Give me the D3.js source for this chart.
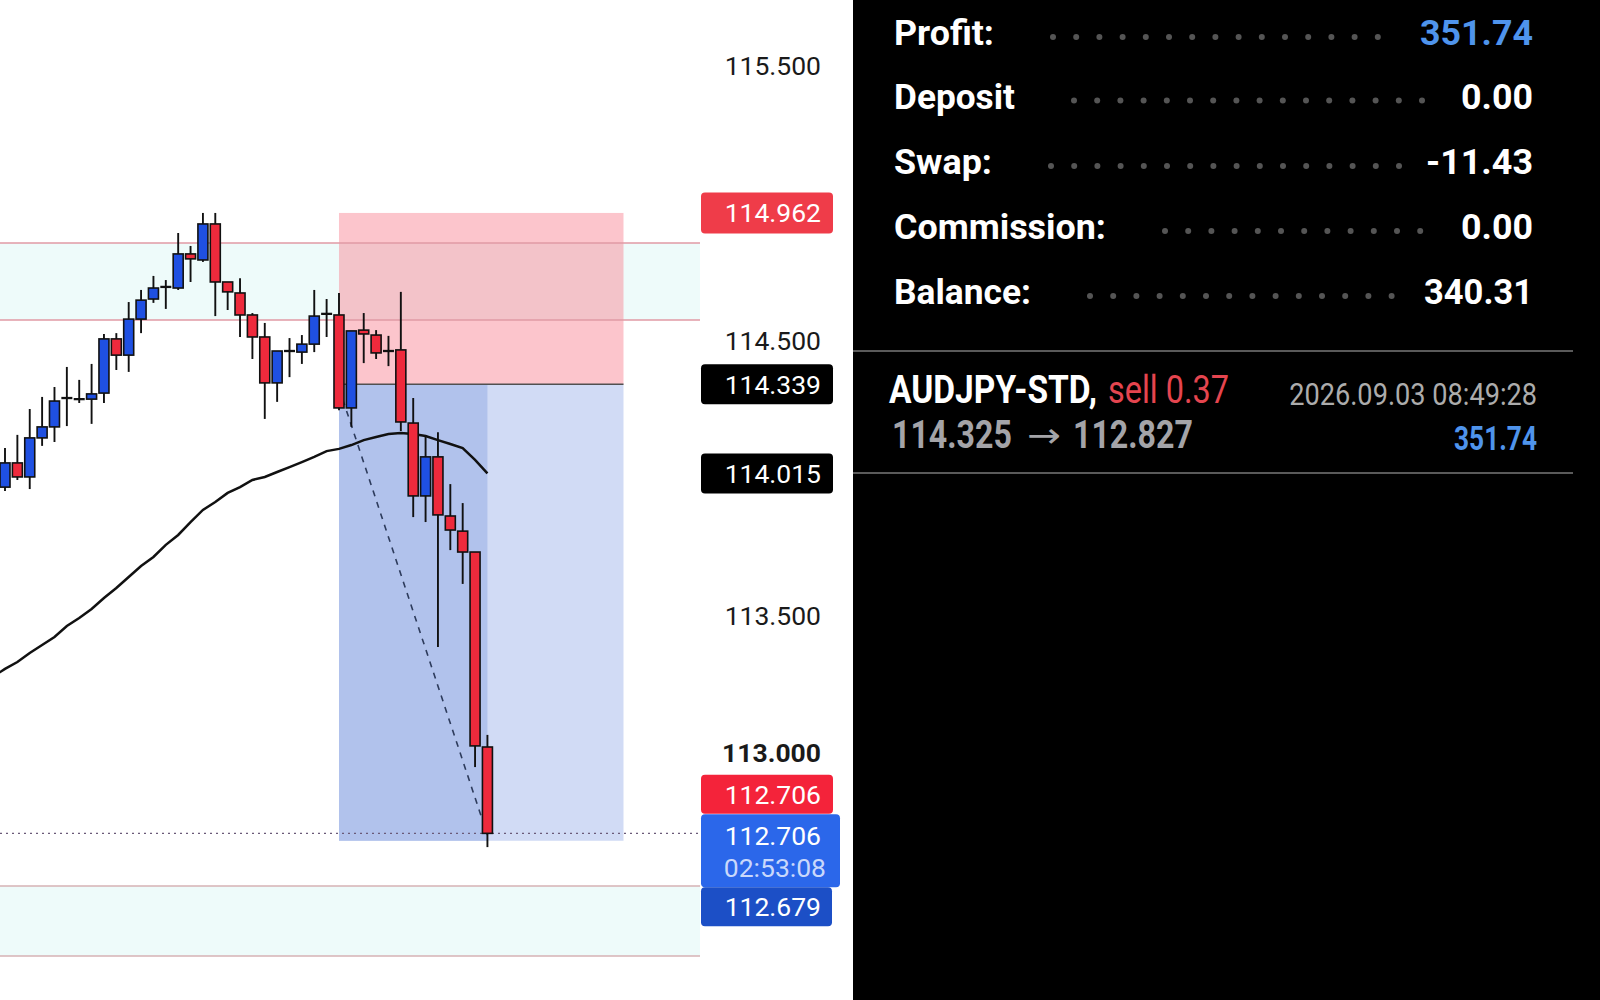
<!DOCTYPE html>
<html><head><meta charset="utf-8">
<script src="https://cdn.jsdelivr.net/npm/d3@7"></script>
<style>html,body{margin:0;padding:0;background:#fff;overflow:hidden}svg{display:block}</style>
</head><body><svg id="c" width="1600" height="1000"></svg>
<script>
// ---------- DATA ----------
const opens  = [113.965,114.053,114.002,114.144,114.184,114.289,114.285,114.285,114.307,114.504,114.445,114.576,114.649,114.693,114.689,114.813,114.791,114.922,114.711,114.671,114.591,114.511,114.344,114.460,114.456,114.485,114.595,114.591,114.253,114.536,114.518,114.460,114.464,114.198,113.933,114.075,113.860,113.805,113.729,113.020];
const highs  = [114.107,114.155,114.249,114.293,114.329,114.402,114.355,114.413,114.522,114.525,114.638,114.682,114.733,114.718,114.889,114.842,114.962,114.962,114.711,114.725,114.598,114.562,114.460,114.507,114.518,114.682,114.649,114.671,114.533,114.598,114.536,114.515,114.675,114.289,114.151,114.165,113.976,113.907,113.729,113.064];
const lows   = [113.951,113.991,113.958,114.115,114.129,114.187,114.271,114.195,114.271,114.391,114.384,114.525,114.635,114.613,114.682,114.711,114.784,114.587,114.609,114.511,114.431,114.213,114.275,114.365,114.413,114.456,114.511,114.245,114.184,114.416,114.431,114.405,114.169,113.856,113.838,113.384,113.736,113.613,112.947,112.656];
const closes = [114.053,114.002,114.144,114.184,114.278,114.289,114.285,114.304,114.504,114.445,114.576,114.645,114.689,114.693,114.813,114.795,114.922,114.711,114.675,114.591,114.511,114.344,114.460,114.460,114.485,114.587,114.595,114.253,114.533,114.522,114.453,114.460,114.202,113.933,114.075,113.864,113.809,113.729,113.024,112.706];
// moving average, first value belongs to the bar before the first visible candle
const maValues = [113.275,113.304,113.329,113.362,113.391,113.420,113.460,113.489,113.522,113.562,113.598,113.638,113.678,113.711,113.755,113.791,113.838,113.882,113.911,113.944,113.965,113.991,114.002,114.020,114.038,114.056,114.075,114.096,114.104,114.118,114.136,114.147,114.158,114.162,114.158,114.151,114.136,114.122,114.107,114.064,114.015];
// visible price-scale ticks (others are covered by the price tags)
const yTickValues = [115.5,114.5,113.5,113.0];
const boldTick = 113.0;
const zoneUpper = [114.853,114.573];
const zoneLower = [112.515,112.260];
const stopLoss = 114.962, entryPrice = 114.339, takeProfit = 112.679, currentPrice = 112.706;
const tradeBars = [27,39,50];           // open bar, current bar, projection end
const dashedFrom = [27,114.325], dashedTo = [39,112.700];
const priceLabels = ["114.962","114.339","114.015","112.706","112.706","112.679"];
const priceLabelValues = [114.962,114.339,114.015,112.706,112.706,112.679];
const timerText = "02:53:08";
const statLabels = ["Profit:","Deposit","Swap:","Commission:","Balance:"];
const statValues = ["351.74","0.00","-11.43","0.00","340.31"];
const tradeSymbol = "AUDJPY-STD,", tradeSide = "sell 0.37";
const tradeOpen = "114.325", tradeArrow = "\u2192", tradeClose = "112.827";
const tradeTime = "2026.09.03 08:49:28", tradeProfit = "351.74";

// ---------- LAYOUT ----------
const svg = d3.select("#c");
const F = "Roboto, 'Noto Sans', sans-serif";
const x = d3.scaleLinear().domain([0,50]).range([5,623.5]);
const y = d3.scaleLinear().domain([112.5,115.5]).range([890,65]);
const chartRight = 700;
const BULL = "#1f50e2", BEAR = "#ee2a3c";

// text fitted horizontally to a target width by a scale transform
function fitText(str, px, py, w, opts) {
  const t = svg.append("text").attr("x",0).attr("y",0)
    .attr("font-family", opts.family || F).attr("font-size", opts.size)
    .attr("font-weight", opts.weight || "normal").attr("fill", opts.fill)
    .attr("text-anchor", opts.anchor || "start").text(str);
  const nat = t.node().getComputedTextLength();
  t.attr("transform", `translate(${px},${py}) scale(${w/nat},1)`);
  return t;
}

svg.append("rect").attr("x",0).attr("y",0).attr("width",853).attr("height",1000).attr("fill","#ffffff");
svg.append("rect").attr("x",853).attr("y",0).attr("width",747).attr("height",1000).attr("fill","#000000");

svg.append("defs").append("clipPath").attr("id","pc").append("rect")
  .attr("x",0).attr("y",0).attr("width",chartRight).attr("height",1000);
const g = svg.append("g").attr("clip-path","url(#pc)");

// zone bands
[zoneUpper, zoneLower].forEach(z => {
  g.append("rect").attr("x",0).attr("width",chartRight)
    .attr("y",y(z[0])).attr("height",y(z[1])-y(z[0])).attr("fill","#eefbfa");
});
// trade boxes
g.append("rect").attr("x",x(tradeBars[0])).attr("width",x(tradeBars[2])-x(tradeBars[0]))
  .attr("y",y(stopLoss)).attr("height",y(entryPrice)-y(stopLoss))
  .attr("fill","rgb(248,128,143)").attr("fill-opacity",0.46);
g.append("rect").attr("x",x(tradeBars[0])).attr("width",x(tradeBars[2])-x(tradeBars[0]))
  .attr("y",y(entryPrice)).attr("height",y(takeProfit)-y(entryPrice)).attr("fill","#d1dbf5");
g.append("rect").attr("x",x(tradeBars[0])).attr("width",x(tradeBars[1])-x(tradeBars[0]))
  .attr("y",y(entryPrice)).attr("height",y(takeProfit)-y(entryPrice)).attr("fill","#b1c2ec");
// zone lines
[zoneUpper, zoneLower].forEach((z,k) => {
  z.forEach(p => g.append("line").attr("x1",0).attr("x2",chartRight).attr("y1",y(p)).attr("y2",y(p))
    .attr("stroke", k===0 ? "#e09aa4" : "#d6b2b4").attr("stroke-width",1.5));
});
// entry line
g.append("line").attr("x1",x(tradeBars[0])).attr("x2",x(tradeBars[2]))
  .attr("y1",y(entryPrice)).attr("y2",y(entryPrice)).attr("stroke","#505050").attr("stroke-width",1.6);
// moving average
g.append("path").datum(maValues)
  .attr("d", d3.line().x((d,i)=>x(i-1)).y(d=>y(d)))
  .attr("fill","none").attr("stroke","#111").attr("stroke-width",2.5);
// dashed trade line
g.append("line").attr("x1",x(dashedFrom[0])).attr("y1",y(dashedFrom[1]))
  .attr("x2",x(dashedTo[0])).attr("y2",y(dashedTo[1]))
  .attr("stroke","#2d3b5c").attr("stroke-width",1.6).attr("stroke-dasharray","6,6");
// current price dotted line
g.append("line").attr("x1",0).attr("x2",chartRight).attr("y1",y(currentPrice)).attr("y2",y(currentPrice))
  .attr("stroke","#6a5a78").attr("stroke-width",1.3).attr("stroke-dasharray","2,4");

// candles
const bw = 10;
const cg = g.append("g");
opens.forEach((o,i) => {
  const c = closes[i], cx = x(i);
  cg.append("line").attr("x1",cx).attr("x2",cx).attr("y1",y(highs[i])).attr("y2",y(lows[i]))
    .attr("stroke","#111").attr("stroke-width",1.9);
  if (Math.abs(o-c) < 0.002) {
    cg.append("line").attr("x1",cx-bw/2-0.5).attr("x2",cx+bw/2+0.5).attr("y1",y(o)).attr("y2",y(o))
      .attr("stroke","#111").attr("stroke-width",2.3);
  } else {
    const top = y(Math.max(o,c)), bot = y(Math.min(o,c));
    cg.append("rect").attr("x",cx-bw/2).attr("width",bw).attr("y",top).attr("height",Math.max(2,bot-top))
      .attr("fill", c>o ? BULL : BEAR).attr("stroke","#111").attr("stroke-width",1.6);
  }
});

// y axis labels
const axis = svg.append("g").attr("transform","translate(821,0)")
  .call(d3.axisLeft(y).tickValues(yTickValues).tickFormat(d3.format(".3f")).tickSize(0).tickPadding(0));
axis.select(".domain").remove();
axis.selectAll("text").attr("font-family",F).attr("font-size",26.5).attr("fill","#1a1a1a")
  .attr("font-weight", d => d===boldTick ? "bold" : "normal").attr("dy","0.34em");

// price label boxes
const boxStyle = [
  {fill:"#ef3c49", off:0,   h:41, w:132},
  {fill:"#000000", off:0,   h:40, w:132},
  {fill:"#000000", off:0,   h:40, w:132},
  {fill:"#f4233a", off:-39, h:39, w:132},
  {fill:"#2b67ea", off:0,   h:73, w:139, top:-19},
  {fill:"#1c4fc6", off:66,  h:39, w:131}
];
priceLabels.forEach((t,k) => {
  const s = boxStyle[k], cy = y(priceLabelValues[k]) + s.off;
  const top = s.top!==undefined ? y(priceLabelValues[k]) + s.top : cy - s.h/2;
  svg.append("rect").attr("x",701).attr("y",top).attr("width",s.w).attr("height",s.h)
    .attr("rx",4).attr("fill",s.fill);
  svg.append("text").attr("x",821).attr("y",(s.top!==undefined ? y(priceLabelValues[k])+2 : cy)+9.3)
    .attr("text-anchor","end").attr("font-family",F).attr("font-size",26.5).attr("fill","#fff").text(t);
  if (s.top!==undefined) {
    svg.append("text").attr("x",826).attr("y",y(priceLabelValues[k])+34+9.3)
      .attr("text-anchor","end").attr("font-family",F).attr("font-size",26.5).attr("fill","#c9d8fb").text(timerText);
  }
});

// ---------- RIGHT PANEL ----------
const statBase = [45,108.5,174,239,304];
const labelW = [100,121,98,212,137];
const valueW = [113,72,107,72,109];
const labelX = 894, valueR = 1533;
statLabels.forEach((t,k) => {
  fitText(t, labelX, statBase[k], labelW[k], {size:35, weight:"bold", fill:"#fff"});
  fitText(statValues[k], valueR, statBase[k], valueW[k], {size:35, weight:"bold", fill: k===0 ? "#4f94ec" : "#fff", anchor:"end"});
  const start = labelX + labelW[k] + 59, limit = valueR - valueW[k] - 26;
  d3.range(start, limit, 23.2).forEach(dx => {
    svg.append("circle").attr("cx",dx).attr("cy",statBase[k]-8).attr("r",3).attr("fill","#555");
  });
});
svg.append("line").attr("x1",853).attr("x2",1573).attr("y1",351).attr("y2",351).attr("stroke","#5a5a5a").attr("stroke-width",2);
svg.append("line").attr("x1",853).attr("x2",1573).attr("y1",473).attr("y2",473).attr("stroke","#5a5a5a").attr("stroke-width",2);

fitText(tradeSymbol, 889, 403, 208, {size:38, weight:"bold", fill:"#fff"});
fitText(tradeSide, 1108, 403, 121, {size:38, fill:"#e5454f"});
fitText(tradeOpen, 892, 448, 120, {size:39, weight:"bold", fill:"#a4a4a8"});
fitText(tradeArrow, 1027, 447, 34, {size:34, family:"'DejaVu Sans', sans-serif", fill:"#a4a4a8"});
fitText(tradeClose, 1073, 448, 120, {size:39, weight:"bold", fill:"#a4a4a8"});
fitText(tradeTime, 1537, 405, 248, {size:31, fill:"#acacac", anchor:"end"});
fitText(tradeProfit, 1537, 450, 83, {size:34, weight:"bold", fill:"#4f94ec", anchor:"end"});
</script></body></html>
